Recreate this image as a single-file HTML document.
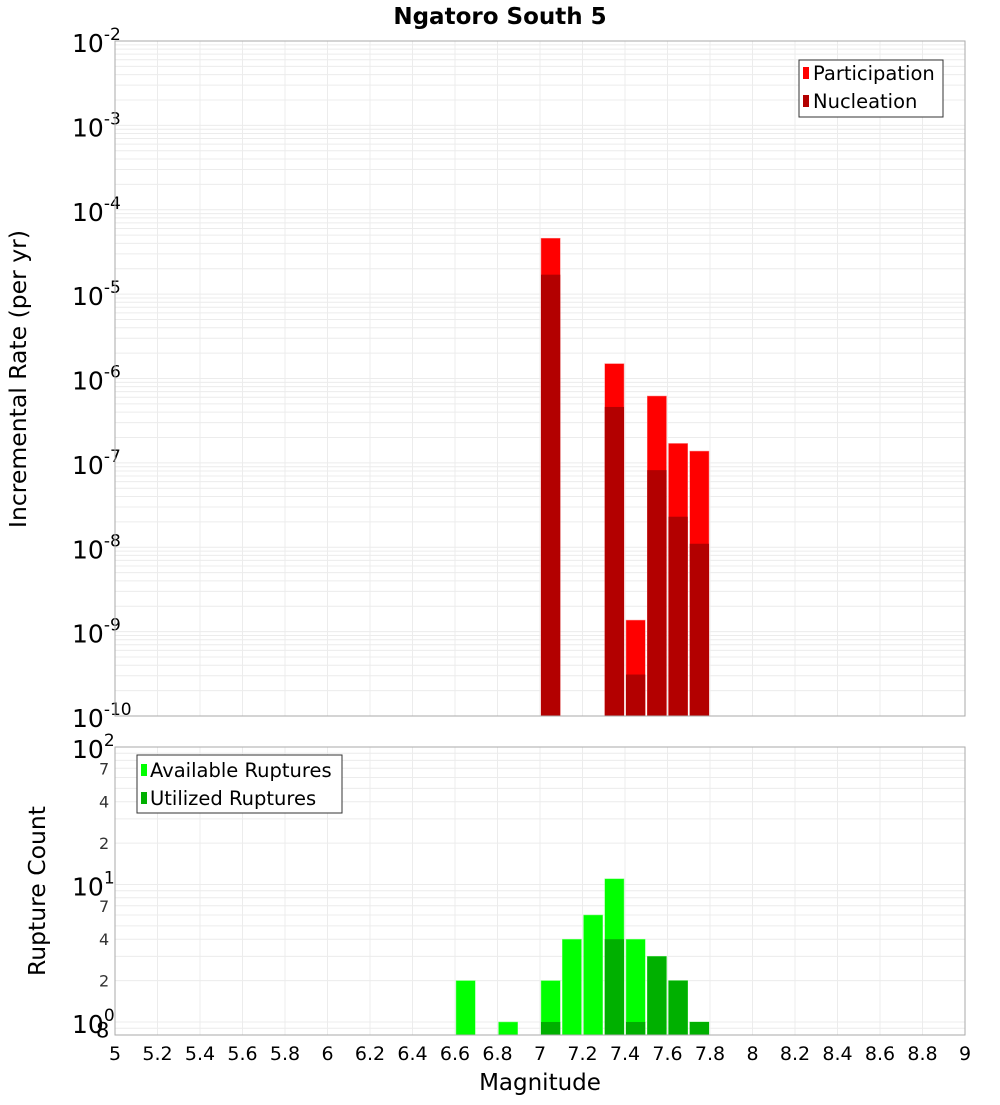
<!DOCTYPE html>
<html><head><meta charset="utf-8"><style>
body{margin:0;background:#fff;}
svg text{font-family:"DejaVu Sans","Liberation Sans",sans-serif;}
</style></head><body>
<svg id="chart" width="1000" height="1100" xmlns="http://www.w3.org/2000/svg">
<text x="500" y="24" text-anchor="middle" font-size="23" font-weight="bold">Ngatoro South 5</text>
<g id="topG"></g><g id="botG"></g>
<text transform="translate(26,379) rotate(-90)" text-anchor="middle" font-size="23.5">Incremental Rate (per yr)</text>
<text transform="translate(45,891) rotate(-90)" text-anchor="middle" font-size="23.5">Rupture Count</text>
<text x="540" y="1090" text-anchor="middle" font-size="23">Magnitude</text>
<g>
<rect x="799" y="60" width="144" height="57" fill="#fff" stroke="#333"/>
<rect x="803" y="67" width="6" height="12" fill="#ff0000"/><text x="813" y="80" font-size="19.5">Participation</text>
<rect x="803" y="95" width="6" height="12" fill="#b30000"/><text x="813" y="108" font-size="19.5">Nucleation</text>
</g>
<g>
<rect x="137" y="755" width="205" height="58" fill="#fff" stroke="#333"/>
<rect x="141" y="764" width="6" height="12" fill="#00ff00"/><text x="150" y="777" font-size="19.5">Available Ruptures</text>
<rect x="141" y="792" width="6" height="12" fill="#00b000"/><text x="150" y="805" font-size="19.5">Utilized Ruptures</text>
</g>
</svg>
<script>
const mags=[7.05,7.35,7.45,7.55,7.65,7.75];
const participation=[4.6e-5,1.5e-6,1.37e-9,6.2e-7,1.7e-7,1.38e-7];
const nucleation=[1.7e-5,4.6e-7,3.1e-10,8.2e-8,2.3e-8,1.1e-8];
const cntMags=[6.65,6.85,7.05,7.15,7.25,7.35,7.45,7.55,7.65,7.75];
const available=[2,1,2,4,6,11,4,3,2,1];
const utilized=[0,0,1,0,0,4,1,3,2,1];
const xTicks=[5,5.2,5.4,5.6,5.8,6,6.2,6.4,6.6,6.8,7,7.2,7.4,7.6,7.8,8,8.2,8.4,8.6,8.8,9];
const NS='http://www.w3.org/2000/svg';
const L=115,R=965,T1=41,B1=716,T2=747,B2=1035;
const xs=m=>L+(m-5)/4*(R-L);
const y1=v=>T1+(-2-Math.log10(v))/8*(B1-T1);
const y2min=Math.log10(0.804);
const y2=v=>T2+(2-Math.log10(v))/(2-y2min)*(B2-T2);
function el(tag,a,p){const e=document.createElementNS(NS,tag);for(const k in a)e.setAttribute(k,a[k]);p.appendChild(e);return e;}
const topG=document.getElementById('topG'),botG=document.getElementById('botG');
for(let e=-10;e<-2;e++)for(let k=1;k<10;k++){const y=y1(k*Math.pow(10,e));const g=el('line',{x1:L,x2:R,y1:y,y2:y,stroke:'#ececec'},topG);

}
for(const t of xTicks){const x=xs(t);for(const [p,a,b] of [[topG,T1,B1],[botG,T2,B2]]){const g=el('line',{x1:x,x2:x,y1:a,y2:b,stroke:'#ececec'},p);

}
const tx=el('text',{x:x,y:1060,'text-anchor':'middle','font-size':'19'},botG);tx.textContent=String(t);

}
for(let e=-10;e<=-2;e++){const y=y1(Math.pow(10,e));const t=el('text',{x:72,y:y+11,'font-size':'25'},topG);t.innerHTML='10<tspan dy="-12" font-size="17">'+e+'</tspan>';

}
for(let e=-1;e<2;e++)for(let k=1;k<10;k++){const v=k*Math.pow(10,e);if(v<0.804)continue;const y=y2(v);const g=el('line',{x1:L,x2:R,y1:y,y2:y,stroke:'#ececec'},botG);

}
const minor=[[70,'7'],[40,'4'],[20,'2'],[7,'7'],[4,'4'],[2,'2'],[0.8,'8']];
for(const [v,s] of minor){const t=el('text',{x:v<1?96:99,y:y2(v)+(v<1?2:6),'font-size':v<1?'21':'16',fill:v<1?'#000':'#333'},botG);t.textContent=s;

}
for(let e=0;e<=2;e++){const y=y2(Math.pow(10,e));const t=el('text',{x:72,y:y+11,'font-size':'25'},botG);t.innerHTML='10<tspan dy="-12" font-size="17">'+e+'</tspan>';

}
const bw=(R-L)/40;
mags.forEach((m,i)=>{const x=xs(m)-bw/2+1;
let r=el('rect',{x:x,y:y1(participation[i]),width:bw-2,height:B1-y1(participation[i]),fill:'#ff0000',stroke:'#ff8080','stroke-width':0.5},topG);


r=el('rect',{x:x,y:y1(nucleation[i]),width:bw-2,height:B1-y1(nucleation[i]),fill:'#b30000'},topG);

});
cntMags.forEach((m,i)=>{const x=xs(m)-bw/2+1;
let r=el('rect',{x:x,y:y2(available[i]),width:bw-2,height:B2-y2(available[i]),fill:'#00ff00',stroke:'#80ff80','stroke-width':0.5},botG);


if(utilized[i]>0){r=el('rect',{x:x,y:y2(utilized[i]),width:bw-2,height:B2-y2(utilized[i]),fill:'#00b000'},botG);

}});
for(const [p,a,b] of [[topG,T1,B1],[botG,T2,B2]]){const f=el('rect',{x:L,y:a,width:R-L,height:b-a,fill:'none',stroke:'#aaa'},p);

}
</script>
</body></html>
